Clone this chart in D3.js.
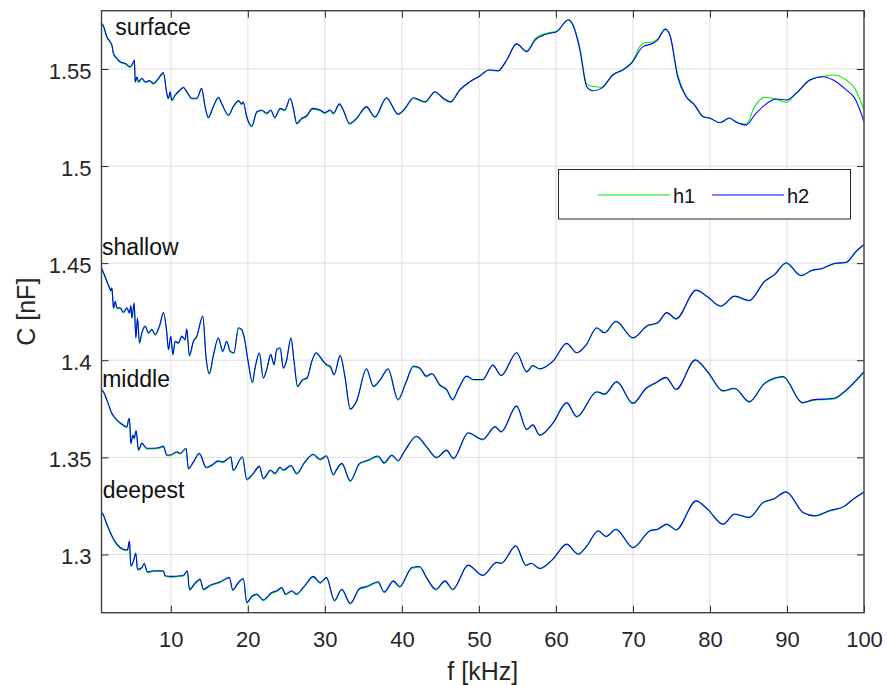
<!DOCTYPE html>
<html>
<head>
<meta charset="utf-8">
<script src="https://cdn.jsdelivr.net/npm/d3@7"></script>
<style>
  body { margin: 0; background: #fff; }
  svg { font-family: "Liberation Sans", Arial, Helvetica, sans-serif; display: block; }
</style>
</head>
<body>
<svg id="chart"></svg>
<script>
// Data =======================================================================

const xTicks = [10, 20, 30, 40, 50, 60, 70, 80, 90, 100];
const yTicks = [1.3, 1.35, 1.4, 1.45, 1.5, 1.55];
const yTickLabels = ["1.3", "1.35", "1.4", "1.45", "1.5", "1.55"];
const seriesNames = ["h1", "h2"];

// frequency [kHz] and capacitance [nF]
const surfaceF = [1.0,1.2,1.7,2.13,2.35,2.56,3.0,3.43,4.07,4.72,5.0,5.28,5.37,5.6,5.8,6.24,6.67,7.23,7.74,8.39,
  9.04,9.48,9.69,9.91,10.13,10.56,11.2,11.64,12.07,12.73,13.37,14.0,14.45,14.88,15.5,16.2,16.6,17.5,18.1,18.8,
  19.2,19.4,19.86,20.5,21.16,21.8,22.45,22.97,23.5,24.2,24.8,25.5,25.9,26.35,27.0,27.6,28.4,29.4,30.0,30.7,
  31.1,31.9,32.4,33.2,34.1,35.4,36.5,38.0,39.5,40.4,41.5,43.0,44.3,45.4,46.3,47.5,48.8,50.1,51.3,52.5,
  53.6,54.9,56.2,57.3,58.8,60.1,61.6,62.2,63.1,64.0,64.8,65.9,67.4,68.7,69.8,71.3,72.6,73.2,74.2,74.8,
  75.8,76.9,78.0,79.1,80.0,81.3,82.5,83.6,84.7,85.8,87.1,88.6,89.9,91.2,93.0,94.7,96.0,97.7,98.8,100];
const surfaceH1 = [1.5731,1.5722,1.5662,1.5636,1.5619,1.5576,1.5551,1.5533,1.5525,1.5508,
  1.5521,1.5542,1.5430,1.5456,1.5430,1.5448,1.5430,1.5436,1.5422,1.5448,
  1.5477,1.5371,1.5345,1.5379,1.5336,1.5362,1.5388,1.5402,1.5379,1.5345,
  1.5345,1.5396,1.5302,1.5247,1.5302,1.5350,1.5319,1.5259,1.5302,1.5333,
  1.5316,1.5327,1.5250,1.5202,1.5276,1.5285,1.5268,1.5285,1.5247,1.5293,
  1.5285,1.5345,1.5296,1.5216,1.5242,1.5254,1.5293,1.5285,1.5271,1.5285,
  1.5268,1.5316,1.5285,1.5216,1.5242,1.5302,1.5250,1.5348,1.5264,1.5293,
  1.5348,1.5327,1.5379,1.5345,1.5327,1.5388,1.5432,1.5462,1.5493,1.5489,
  1.5544,1.5629,1.5593,1.5656,1.5684,1.5694,1.5754,1.5730,1.5612,1.5422,
  1.5410,1.5406,1.5472,1.5498,1.5533,1.5632,1.5640,1.5655,1.5707,1.5672,
  1.5474,1.5362,1.5318,1.5257,1.5247,1.5224,1.5247,1.5222,1.5216,1.5306,
  1.5354,1.5344,1.5328,1.5376,1.5446,1.5462,1.5469,1.5443,1.5400,1.5289];
const surfaceH2 = [1.5735,1.5726,1.5666,1.5640,1.5623,1.5580,1.5555,1.5537,1.5529,1.5512,
  1.5525,1.5546,1.5434,1.5460,1.5434,1.5452,1.5434,1.5440,1.5426,1.5452,
  1.5481,1.5375,1.5349,1.5383,1.5340,1.5366,1.5392,1.5406,1.5383,1.5349,
  1.5349,1.5400,1.5306,1.5251,1.5306,1.5354,1.5323,1.5263,1.5306,1.5337,
  1.5320,1.5331,1.5254,1.5206,1.5280,1.5289,1.5272,1.5289,1.5251,1.5297,
  1.5289,1.5349,1.5300,1.5220,1.5246,1.5258,1.5297,1.5289,1.5275,1.5289,
  1.5272,1.5320,1.5289,1.5220,1.5246,1.5306,1.5254,1.5352,1.5268,1.5297,
  1.5352,1.5331,1.5383,1.5349,1.5331,1.5392,1.5434,1.5464,1.5495,1.5491,
  1.5546,1.5629,1.5589,1.5649,1.5680,1.5692,1.5752,1.5726,1.5600,1.5409,
  1.5388,1.5400,1.5469,1.5495,1.5529,1.5615,1.5632,1.5649,1.5704,1.5675,
  1.5460,1.5357,1.5314,1.5254,1.5246,1.5223,1.5246,1.5223,1.5211,1.5263,
  1.5314,1.5345,1.5340,1.5375,1.5443,1.5460,1.5443,1.5392,1.5349,1.5229];

const shallowF = [1.0,1.18,1.7,2.04,2.2,2.35,2.48,2.56,2.78,3.0,
  3.43,3.85,4.3,4.63,4.81,4.94,5.24,5.46,5.67,5.93,
  6.24,6.67,7.1,7.54,7.97,8.52,9.04,9.48,9.69,10.0,
  10.26,10.56,10.99,11.43,11.86,12.07,12.41,12.93,13.37,14.15,
  14.58,15.0,15.5,16.17,16.74,17.26,17.7,18.2,18.77,19.2,
  19.5,20.07,20.6,20.9,21.5,22.0,22.45,22.97,23.4,23.75,
  24.2,24.6,25.0,25.6,26.0,26.45,27.1,27.7,28.3,28.85,
  29.8,30.2,30.7,31.2,32.0,32.6,33.3,34.1,35.4,36.3,
  37.2,38.2,39.5,40.5,41.5,42.3,43.2,43.9,44.9,45.8,
  46.6,47.3,48.4,49.3,50.5,51.8,52.9,54.9,56.2,57.0,
  57.9,59.6,61.4,62.7,63.9,65.3,66.3,67.8,70.0,71.9,
  73.2,74.4,75.6,78.2,79.7,81.4,83.2,85.1,87.1,88.4,
  89.9,91.8,93.3,94.4,96.1,97.7,99.0,100];
const shallowH1 = [1.4471,1.4455,1.4403,1.4369,1.4356,1.4369,1.4300,1.4266,1.4300,1.4266,
  1.4266,1.4244,1.4266,1.4241,1.4278,1.4215,1.4292,1.4112,1.4215,1.4086,
  1.4138,1.4172,1.4138,1.4155,1.4129,1.4172,1.4241,1.4138,1.4052,1.4120,
  1.4026,1.4094,1.4086,1.4120,1.4103,1.4158,1.4021,1.4094,1.4120,1.4223,
  1.4009,1.3928,1.4017,1.4112,1.4043,1.4094,1.4043,1.4035,1.4163,1.4155,
  1.4120,1.3983,1.3883,1.3949,1.4035,1.3906,1.3949,1.4026,1.3974,1.4052,
  1.4060,1.3957,1.3991,1.4112,1.3991,1.3863,1.3896,1.3906,1.3991,1.4035,
  1.3991,1.3974,1.3965,1.3923,1.4021,1.3914,1.3746,1.3785,1.3952,1.3863,
  1.3897,1.3952,1.3794,1.3880,1.3966,1.3957,1.3914,1.3928,1.3871,1.3846,
  1.3794,1.3846,1.3916,1.3899,1.3899,1.3973,1.3920,1.4037,1.3939,1.3971,
  1.3954,1.3993,1.4085,1.4037,1.4076,1.4165,1.4140,1.4199,1.4114,1.4177,
  1.4191,1.4243,1.4212,1.4359,1.4325,1.4277,1.4328,1.4306,1.4405,1.4440,
  1.4500,1.4435,1.4462,1.4469,1.4496,1.4503,1.4560,1.4594];
const shallowH2 = [1.4475,1.4459,1.4407,1.4373,1.4360,1.4373,1.4304,1.4270,1.4304,1.4270,
  1.4270,1.4248,1.4270,1.4245,1.4282,1.4219,1.4296,1.4116,1.4219,1.4090,
  1.4142,1.4176,1.4142,1.4159,1.4133,1.4176,1.4245,1.4142,1.4056,1.4124,
  1.4030,1.4098,1.4090,1.4124,1.4107,1.4162,1.4025,1.4098,1.4124,1.4227,
  1.4013,1.3932,1.4021,1.4116,1.4047,1.4098,1.4047,1.4039,1.4167,1.4159,
  1.4124,1.3987,1.3887,1.3953,1.4039,1.3910,1.3953,1.4030,1.3978,1.4056,
  1.4064,1.3961,1.3995,1.4116,1.3995,1.3867,1.3900,1.3910,1.3995,1.4039,
  1.3995,1.3978,1.3969,1.3927,1.4025,1.3918,1.3750,1.3789,1.3956,1.3867,
  1.3901,1.3956,1.3798,1.3884,1.3970,1.3961,1.3918,1.3932,1.3875,1.3850,
  1.3798,1.3850,1.3918,1.3901,1.3901,1.3975,1.3922,1.4039,1.3941,1.3973,
  1.3956,1.3995,1.4087,1.4039,1.4078,1.4167,1.4142,1.4201,1.4116,1.4179,
  1.4193,1.4245,1.4214,1.4361,1.4327,1.4279,1.4330,1.4308,1.4407,1.4442,
  1.4502,1.4437,1.4464,1.4471,1.4498,1.4505,1.4562,1.4596];

const middleF = [1.0,1.18,1.7,2.35,3.0,3.64,4.3,4.5,4.63,4.81,
  5.07,5.24,5.5,5.8,6.24,6.89,7.74,8.61,9.04,9.48,
  9.91,10.78,11.2,11.98,12.28,12.93,13.7,14.58,15.3,16.17,
  16.74,17.8,18.1,19.3,19.86,20.7,21.5,22.0,22.97,23.5,
  24.2,24.6,25.6,26.35,27.4,28.5,29.4,30.2,31.1,31.6,
  32.2,33.3,34.5,35.6,36.9,37.7,38.7,39.5,40.3,41.9,
  43.2,44.5,45.8,46.7,48.6,50.5,52.1,52.9,54.9,56.2,
  57.0,57.9,59.6,61.4,62.7,65.3,66.3,67.9,70.0,71.7,
  73.0,74.3,75.6,78.1,79.7,81.7,83.2,85.1,87.1,89.5,
  92.0,93.3,96.1,97.7,100];
const middleH1 = [1.3846,1.3839,1.3792,1.3723,1.3689,1.3668,1.3654,1.3689,1.3697,1.3569,
  1.3611,1.3594,1.3634,1.3534,1.3569,1.3543,1.3543,1.3548,1.3554,1.3508,
  1.3508,1.3525,1.3517,1.3543,1.3439,1.3473,1.3517,1.3445,1.3456,1.3478,
  1.3473,1.3499,1.3431,1.3499,1.3383,1.3414,1.3451,1.3388,1.3431,1.3414,
  1.3446,1.3431,1.3454,1.3414,1.3473,1.3512,1.3486,1.3504,1.3408,1.3439,
  1.3465,1.3376,1.3465,1.3482,1.3503,1.3468,1.3508,1.3480,1.3526,1.3606,
  1.3552,1.3497,1.3534,1.3492,1.3624,1.3590,1.3655,1.3629,1.3762,1.3641,
  1.3664,1.3612,1.3673,1.3779,1.3707,1.3835,1.3823,1.3887,1.3776,1.3853,
  1.3882,1.3909,1.3848,1.3999,1.3938,1.3840,1.3853,1.3784,1.3879,1.3913,
  1.3779,1.3793,1.3801,1.3844,1.3938];
const middleH2 = [1.3850,1.3843,1.3796,1.3727,1.3693,1.3672,1.3658,1.3693,1.3701,1.3573,
  1.3615,1.3598,1.3638,1.3538,1.3573,1.3547,1.3547,1.3552,1.3558,1.3512,
  1.3512,1.3529,1.3521,1.3547,1.3443,1.3477,1.3521,1.3449,1.3460,1.3482,
  1.3477,1.3503,1.3435,1.3503,1.3387,1.3418,1.3455,1.3392,1.3435,1.3418,
  1.3450,1.3435,1.3458,1.3418,1.3477,1.3516,1.3490,1.3508,1.3412,1.3443,
  1.3469,1.3380,1.3469,1.3486,1.3507,1.3472,1.3512,1.3484,1.3530,1.3609,
  1.3555,1.3500,1.3537,1.3495,1.3627,1.3593,1.3658,1.3632,1.3765,1.3644,
  1.3667,1.3615,1.3676,1.3782,1.3710,1.3838,1.3826,1.3890,1.3779,1.3856,
  1.3885,1.3912,1.3851,1.4002,1.3941,1.3843,1.3856,1.3787,1.3882,1.3916,
  1.3782,1.3796,1.3804,1.3847,1.3941];

const deepestF = [1.0,1.18,1.7,2.35,3.0,3.85,4.37,4.63,4.81,5.15,
  5.46,5.67,6.24,6.54,6.97,7.74,9.04,9.26,10.13,11.2,
  11.64,12.15,12.41,13.15,13.8,14.23,15.1,16.4,17.6,18.04,
  18.77,19.42,19.86,20.5,21.16,22.0,23.1,23.75,24.4,24.9,
  25.7,26.3,27.2,28.5,29.4,30.2,31.25,32.2,33.3,34.5,
  35.4,36.9,37.7,38.9,39.7,41.3,42.3,43.2,44.4,45.6,
  46.6,48.6,50.5,52.3,52.9,54.8,56.1,56.8,57.9,59.6,
  61.4,62.9,64.0,65.5,66.5,67.8,70.0,72.2,73.2,74.4,
  75.6,78.2,79.7,81.7,83.2,85.1,86.9,88.2,89.9,92.1,
  93.6,95.5,97.5,98.6,100];
const deepestH1 = [1.3211,1.3204,1.3152,1.3092,1.3049,1.3023,1.3020,1.3066,1.2937,1.2963,
  1.3003,1.2920,1.2929,1.2951,1.2906,1.2912,1.2912,1.2886,1.2883,1.2886,
  1.2889,1.2912,1.2817,1.2848,1.2869,1.2817,1.2838,1.2855,1.2878,1.2814,
  1.2852,1.2872,1.2749,1.2780,1.2792,1.2762,1.2800,1.2809,1.2826,1.2792,
  1.2809,1.2792,1.2826,1.2883,1.2851,1.2878,1.2759,1.2817,1.2745,1.2821,
  1.2831,1.2855,1.2803,1.2860,1.2831,1.2929,1.2934,1.2878,1.2817,1.2860,
  1.2817,1.2943,1.2891,1.2957,1.2953,1.3042,1.2943,1.2953,1.2926,1.2974,
  1.3051,1.3000,1.3042,1.3120,1.3091,1.3128,1.3034,1.3120,1.3128,1.3154,
  1.3125,1.3274,1.3231,1.3154,1.3206,1.3189,1.3266,1.3283,1.3320,1.3214,
  1.3197,1.3223,1.3248,1.3283,1.3320];
const deepestH2 = [1.3215,1.3208,1.3156,1.3096,1.3053,1.3027,1.3024,1.3070,1.2941,1.2967,
  1.3007,1.2924,1.2933,1.2955,1.2910,1.2916,1.2916,1.2890,1.2887,1.2890,
  1.2893,1.2916,1.2821,1.2852,1.2873,1.2821,1.2842,1.2859,1.2882,1.2818,
  1.2856,1.2876,1.2753,1.2784,1.2796,1.2766,1.2804,1.2813,1.2830,1.2796,
  1.2813,1.2796,1.2830,1.2887,1.2855,1.2882,1.2763,1.2821,1.2749,1.2825,
  1.2835,1.2859,1.2807,1.2864,1.2835,1.2933,1.2938,1.2882,1.2821,1.2864,
  1.2821,1.2945,1.2893,1.2959,1.2955,1.3044,1.2945,1.2955,1.2928,1.2976,
  1.3053,1.3002,1.3044,1.3122,1.3093,1.3130,1.3036,1.3122,1.3130,1.3156,
  1.3127,1.3276,1.3233,1.3156,1.3208,1.3191,1.3268,1.3285,1.3322,1.3216,
  1.3199,1.3225,1.3250,1.3285,1.3322];

// text annotations, placed in data units like MATLAB text()
const groupLabels = ["surface", "shallow", "middle", "deepest"];
const labelF = [2.8, 1.05, 1.09, 1.15];
const labelC = [1.5676, 1.4540, 1.3864, 1.3291];

// Layout =====================================================================

const svgWidth = 887,
  svgHeight = 685;
const plot = { left: 101.5, top: 10.7, right: 864, bottom: 612.7 };
const colors = { h1: "#00ee00", h2: "#0000ff" };
const axisColor = "#262626";
const fontStack = '"Liberation Sans", Arial, Helvetica, sans-serif';

const svg = d3.select("#chart")
  .attr("width", svgWidth)
  .attr("height", svgHeight);

const xScale = d3.scaleLinear().domain([1, 100]).range([plot.left, plot.right]);
const yScale = d3.scaleLinear().domain([1.27, 1.58]).range([plot.bottom, plot.top]);

// Grid =======================================================================

const grid = svg.append("g");
grid.selectAll("line.vx")
  .data(xTicks)
  .enter()
  .append("line")
  .attr("x1", d => xScale(d)).attr("x2", d => xScale(d))
  .attr("y1", plot.top).attr("y2", plot.bottom)
  .attr("stroke", "#dedede").attr("stroke-width", 1);
grid.selectAll("line.hy")
  .data(yTicks)
  .enter()
  .append("line")
  .attr("x1", plot.left).attr("x2", plot.right)
  .attr("y1", d => yScale(d)).attr("y2", d => yScale(d))
  .attr("stroke", "#dedede").attr("stroke-width", 1);

// Lines ======================================================================

const groups = [
  { f: surfaceF, h1: surfaceH1, h2: surfaceH2 },
  { f: shallowF, h1: shallowH1, h2: shallowH2 },
  { f: middleF, h1: middleH1, h2: middleH2 },
  { f: deepestF, h1: deepestH1, h2: deepestH2 }
];

const line = d3.line()
  .x(d => xScale(d[0]))
  .y(d => yScale(d[1]))
  .curve(d3.curveMonotoneX);

const lineLayer = svg.append("g")
  .attr("fill", "none")
  .attr("stroke-linejoin", "round");

seriesNames.forEach(name => {
  groups.forEach(g => {
    const pts = g.f.map((f, i) => [f, g[name][i]]);
    lineLayer.append("path")
      .attr("d", line(pts))
      .attr("stroke", colors[name])
      .attr("stroke-width", 1.1);
  });
});

// Axes =======================================================================

const tickLen = 7;
const axes = svg.append("g");

const xAxis = d3.axisBottom(xScale).tickValues(xTicks)
  .tickSizeInner(-tickLen).tickSizeOuter(0).tickPadding(19);
const xAxisG = axes.append("g")
  .attr("transform", `translate(0,${plot.bottom})`)
  .call(xAxis);

const xTop = d3.axisTop(xScale).tickValues(xTicks)
  .tickSizeInner(-tickLen).tickSizeOuter(0).tickFormat("");
axes.append("g")
  .attr("transform", `translate(0,${plot.top})`)
  .call(xTop);

const yAxis = d3.axisLeft(yScale).tickValues(yTicks)
  .tickFormat((d, i) => yTickLabels[i])
  .tickSizeInner(-tickLen).tickSizeOuter(0).tickPadding(10);
const yAxisG = axes.append("g")
  .attr("transform", `translate(${plot.left},0)`)
  .call(yAxis);

const yRight = d3.axisRight(yScale).tickValues(yTicks)
  .tickSizeInner(-tickLen).tickSizeOuter(0).tickFormat("");
axes.append("g")
  .attr("transform", `translate(${plot.right},0)`)
  .call(yRight);

axes.selectAll("g")
  .attr("font-size", 22)
  .attr("font-family", fontStack);
axes.selectAll(".domain").remove();
axes.selectAll(".tick line").attr("stroke", axisColor).attr("stroke-width", 1);
axes.selectAll(".tick text").attr("fill", axisColor);
yAxisG.selectAll(".tick text").attr("dy", "0.42em");

// box
svg.append("rect")
  .attr("x", plot.left).attr("y", plot.top)
  .attr("width", plot.right - plot.left)
  .attr("height", plot.bottom - plot.top)
  .attr("fill", "none")
  .attr("stroke", "#404040")
  .attr("stroke-width", 1.4);

// axis labels
svg.append("text")
  .attr("x", (plot.left + plot.right) / 2)
  .attr("y", 680)
  .attr("text-anchor", "middle")
  .attr("font-size", 25)
  .attr("fill", axisColor)
  .text("f [kHz]");

svg.append("text")
  .attr("transform", `translate(35,${(plot.top + plot.bottom) / 2}) rotate(-90)`)
  .attr("text-anchor", "middle")
  .attr("font-size", 25)
  .attr("fill", axisColor)
  .text("C [nF]");

// Group labels ===============================================================

svg.selectAll("text.group")
  .data(groupLabels)
  .enter()
  .append("text")
  .attr("class", "group")
  .attr("x", (d, i) => xScale(labelF[i]))
  .attr("y", (d, i) => yScale(labelC[i]))
  .attr("font-size", 23)
  .attr("fill", "#111")
  .text(d => d);

// Legend =====================================================================

const legend = svg.append("g");
legend.append("rect")
  .attr("x", 558.5).attr("y", 169.5)
  .attr("width", 292).attr("height", 49.5)
  .attr("fill", "#fff")
  .attr("stroke", axisColor)
  .attr("stroke-width", 1);

const legendX = [598, 712];
seriesNames.forEach((name, i) => {
  legend.append("line")
    .attr("x1", legendX[i]).attr("x2", legendX[i] + 72)
    .attr("y1", 195).attr("y2", 195)
    .attr("stroke", colors[name])
    .attr("stroke-width", 1.1);
  legend.append("text")
    .attr("x", legendX[i] + 75)
    .attr("y", 202.5)
    .attr("font-size", 20)
    .attr("fill", "#111")
    .text(name);
});
</script>
</body>
</html>
